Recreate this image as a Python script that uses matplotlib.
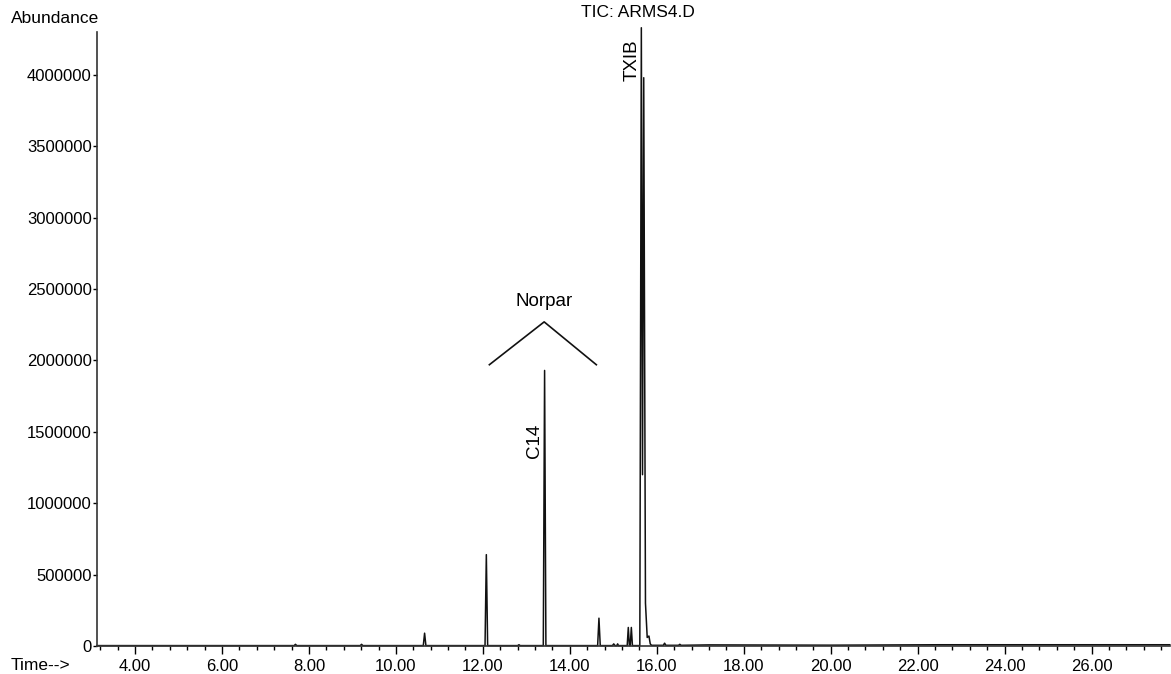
import matplotlib
matplotlib.use("Agg")
import matplotlib.pyplot as plt
from matplotlib.ticker import MultipleLocator

plt.rcParams["font.family"] = ["Liberation Sans", "DejaVu Sans"]

# TIC trace (minutes, abundance)
time_min = [3.13, 7.66, 7.69, 7.72, 9.18, 9.21, 9.24,
            10.63, 10.66, 10.69, 12.05, 12.08, 12.11, 12.8, 12.83, 12.86,
            13.39, 13.42, 13.45, 14.64, 14.67, 14.70,
            14.98, 15.01, 15.04, 15.08, 15.10, 15.12,
            15.32, 15.345, 15.37, 15.39, 15.415, 15.44,
            15.61, 15.645, 15.672, 15.70, 15.74, 15.78, 15.82, 15.85, 15.88,
            16.15, 16.18, 16.21, 16.5, 16.53, 16.56, 17.2, 20.0, 22.5, 27.8]
abundance = [3000, 3000, 12000, 3000, 3000, 12000, 3000,
             3000, 90000, 3000, 3000, 640000, 3000, 3000, 9000, 3000,
             3000, 1930000, 3000, 3000, 195000, 3000,
             3000, 15000, 3000, 3000, 15000, 3000,
             3000, 130000, 3000, 3000, 130000, 3000,
             3000, 4330000, 1200000, 3980000, 300000, 60000, 70000, 15000, 5000,
             5000, 20000, 5000, 5000, 12000, 5000, 8000, 6000, 9000, 9000]

yticks = [0, 500000, 1000000, 1500000, 2000000, 2500000, 3000000, 3500000, 4000000]
xticks = [4, 6, 8, 10, 12, 14, 16, 18, 20, 22, 24, 26]

# Norpar bracket
norpar_x = [12.15, 13.41, 14.61]
norpar_y = [1970000, 2270000, 1970000]

fig = plt.figure(figsize=(11.71, 6.74), dpi=100)
ax = fig.add_axes([0.083, 0.0415, 0.916, 0.911])
ax.plot(time_min, abundance, color="#111111", lw=1.1, clip_on=False)
ax.plot(norpar_x, norpar_y, color="#111111", lw=1.2)
ax.text(13.41, 2410000, "Norpar", ha="center", va="center", fontsize=13.5)
ax.text(13.18, 1440000, "C14", rotation=90, ha="center", va="center", fontsize=13.5)
ax.text(15.43, 4100000, "TXIB", rotation=90, ha="center", va="center", fontsize=13.5)

ax.set_xlim(3.13, 27.8)
ax.set_ylim(0, 4300000)
ax.set_xticks(xticks)
ax.set_xticklabels([f"{t:.2f}" for t in xticks])
ax.xaxis.set_minor_locator(MultipleLocator(0.4))
ax.set_yticks(yticks)
ax.set_yticklabels([str(v) for v in yticks])

for s in ["top", "right"]:
    ax.spines[s].set_visible(False)
for s in ["left", "bottom"]:
    ax.spines[s].set_color("#333333")
    ax.spines[s].set_linewidth(1.2)

ax.tick_params(axis="x", which="major", length=6, width=1, labelsize=12, pad=3)
ax.tick_params(axis="x", which="minor", length=3, width=1)
ax.tick_params(axis="y", length=3, width=1, labelsize=12, pad=1)

fig.text(0.009, 0.972, "Abundance", ha="left", va="center", fontsize=12.5)
fig.text(0.009, 0.012, "Time-->", ha="left", va="center", fontsize=12.5)
fig.text(0.545, 0.981, "TIC: ARMS4.D", ha="center", va="center", fontsize=12.5)

fig.savefig("out.png", dpi=100)
